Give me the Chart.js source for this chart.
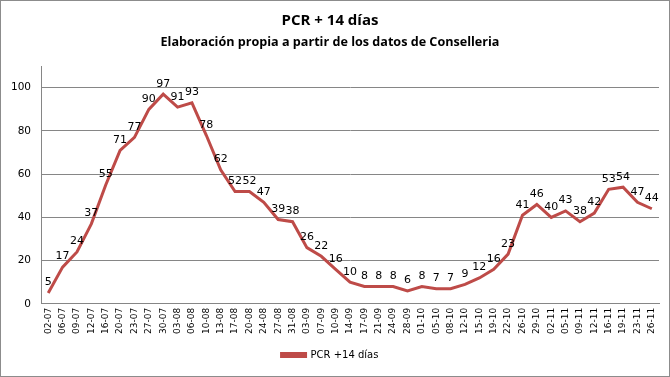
<!DOCTYPE html>
<html>
<head>
<meta charset="utf-8">
<script src="https://cdn.jsdelivr.net/npm/chart.js@4/dist/chart.umd.min.js"></script>
<style>
  html, body { margin: 0; padding: 0; background: #fff; }
  #frame { width: 668px; height: 375px; border: 1px solid #8c8c8c; position: relative; }
  canvas { display: block; }
</style>
</head>
<body>
<div id="frame"><canvas id="chart" width="668" height="375"></canvas></div>
<script>
  const dates = [
    '02-07', '06-07', '09-07', '12-07', '16-07', '20-07', '23-07', '27-07', '30-07',
    '03-08', '06-08', '10-08', '13-08', '17-08', '20-08', '24-08', '27-08', '31-08',
    '03-09', '07-09', '10-09', '14-09', '17-09', '21-09', '24-09', '28-09',
    '01-10', '05-10', '08-10', '12-10', '15-10', '19-10', '22-10', '26-10', '29-10',
    '02-11', '05-11', '09-11', '12-11', '16-11', '19-11', '23-11', '26-11'
  ];
  const pcrValues = [
    5, 17, 24, 37, 55, 71, 77, 90, 97,
    91, 93, 78, 62, 52, 52, 47, 39, 38,
    26, 22, 16, 10, 8, 8, 8, 6,
    8, 7, 7, 9, 12, 16, 23, 41, 46,
    40, 43, 38, 42, 53, 54, 47, 44
  ];
  const yTicks = [0, 20, 40, 60, 80, 100];

  const lineColor = '#BE4B48';
  const labelFont = '11px "DejaVu Sans", Verdana, sans-serif';

  // value labels above each point, placed from the line's own points
  const pointLabels = {
    id: 'pointLabels',
    afterDatasetsDraw(chart) {
      const ctx = chart.ctx;
      const meta = chart.getDatasetMeta(0);
      ctx.save();
      ctx.font = labelFont;
      ctx.fillStyle = '#000';
      ctx.textAlign = 'center';
      ctx.textBaseline = 'bottom';
      meta.data.forEach((pt, i) => {
        ctx.fillText(String(pcrValues[i]), pt.x, pt.y - 5);
      });
      ctx.restore();
    }
  };

  new Chart(document.getElementById('chart'), {
    type: 'line',
    data: {
      labels: dates,
      datasets: [{
        label: 'PCR +14 días',
        data: pcrValues,
        borderColor: lineColor,
        backgroundColor: lineColor,
        borderWidth: 3,
        pointRadius: 0,
        tension: 0
      }]
    },
    options: {
      responsive: false,
      animation: false,
      layout: { padding: { left: 0, right: 10, top: 0, bottom: 6 } },
      plugins: {
        title: {
          display: true,
          text: 'PCR + 14 días',
          color: '#000',
          font: { family: '"Open Sans", sans-serif', size: 15, weight: 'bold' },
          padding: { top: 11, bottom: 5 }
        },
        subtitle: {
          display: true,
          text: 'Elaboración propia a partir de los datos de Conselleria',
          color: '#000',
          font: { family: '"Open Sans", sans-serif', size: 12.6, weight: 'bold' },
          padding: { top: 0, bottom: 16 }
        },
        legend: {
          position: 'bottom',
          labels: {
            color: '#000',
            boxWidth: 24,
            boxHeight: 3,
            padding: 12,
            font: { family: '"DejaVu Sans", Verdana, sans-serif', size: 10 }
          }
        },
        tooltip: { enabled: false }
      },
      scales: {
        x: {
          offset: true,
          grid: { display: false, drawTicks: false },
          border: { color: '#868686' },
          ticks: {
            autoSkip: false,
            maxRotation: 90,
            minRotation: 90,
            padding: 4,
            color: '#000',
            font: { family: '"DejaVu Sans", Verdana, sans-serif', size: 9 }
          }
        },
        y: {
          min: 0,
          max: 110,
          afterBuildTicks(axis) {
            axis.ticks = yTicks.map(v => ({ value: v }));
          },
          grid: { color: '#868686', drawTicks: false },
          border: { color: '#868686' },
          ticks: {
            padding: 10,
            color: '#000',
            font: { family: '"DejaVu Sans", Verdana, sans-serif', size: 10.5 }
          }
        }
      }
    },
    plugins: [pointLabels]
  });
</script>
</body>
</html>
